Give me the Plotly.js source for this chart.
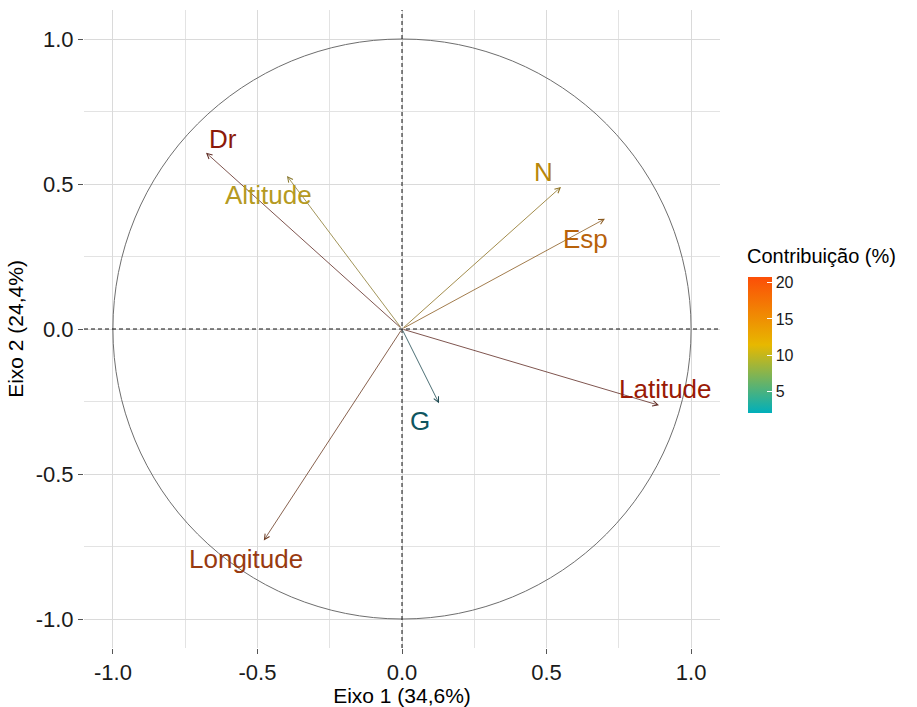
<!DOCTYPE html>
<html>
<head>
<meta charset="utf-8">
<script src="https://cdn.plot.ly/plotly-3.0.1.min.js"></script>
<style>html,body{margin:0;padding:0;background:#fff;}#chart{width:917px;height:707px;}</style>
</head>
<body>
<div id="chart"></div>
<script>
// Data
const variables = ["Dr", "Altitude", "N", "Esp", "Latitude", "G", "Longitude"];
const dim1 = [-0.678, -0.398, 0.550, 0.702, 0.889, 0.128, -0.478];
const dim2 = [0.608, 0.528, 0.490, 0.380, -0.263, -0.256, -0.729];
const contrib = [20.1, 10.6, 13.1, 15.4, 20.8, 1.98, 18.4];
const colorTicks = [5, 10, 15, 20];
const axisTicks = [-1.0, -0.5, 0.0, 0.5, 1.0];

// Styles
const varColors = ["#8B1A0A", "#B59A22", "#B8860B", "#B8620A", "#9A1A05", "#0F5560", "#983A10"];
const arrowColors = ["#5E2A22", "#8A7A30", "#8C7020", "#8A5A20", "#5E2A22", "#1E4A52", "#6A3A22"];
const labelShiftX = [17, -18, -18, -19, 6, -19, -18];
const labelShiftY = [14, -19, 15, -20, 16, -18, -19];
const colorscale = [[0, "#00AFBB"], [0.5, "#E7B800"], [1, "#FC4E07"]];

const font = "Liberation Sans, Arial, sans-serif";

// plot area in pixels
const PL = 84, PR = 720, PT = 10, PB = 648;
const px2paperX = p => (p - PL) / (PR - PL);
const px2paperY = p => (PB - p) / (PB - PT);

const annotations = [];
variables.forEach((v, i) => {
  annotations.push({
    x: dim1[i], y: dim2[i], ax: 0, ay: 0, xref: "x", yref: "y", axref: "x", ayref: "y",
    text: "", showarrow: true, arrowhead: 5, arrowsize: 1.3, arrowwidth: 0.8,
    arrowcolor: arrowColors[i], standoff: 0
  });
  annotations.push({
    x: dim1[i], y: dim2[i], xref: "x", yref: "y", text: v, showarrow: false,
    xshift: labelShiftX[i], yshift: labelShiftY[i],
    font: {family: font, size: 26, color: varColors[i]}
  });
});
annotations.push({
  xref: "paper", yref: "paper", x: px2paperX(745), y: px2paperY(256),
  xanchor: "left", yanchor: "middle", showarrow: false,
  text: "Contribuição (%)", font: {family: font, size: 20, color: "#000"}
});

const cmin = Math.min(...contrib), cmax = Math.max(...contrib);

const traces = [{
  type: "scatter", mode: "markers",
  x: dim1, y: dim2,
  marker: {
    size: 0.1, opacity: 0, color: contrib, colorscale: colorscale, cmin: cmin, cmax: cmax,
    showscale: true,
    colorbar: {
      xref: "paper", yref: "paper",
      x: px2paperX(748), xanchor: "left", y: px2paperY(413), yanchor: "bottom",
      lenmode: "pixels", len: 136, thickness: 24, xpad: 0, ypad: 0,
      outlinewidth: 0, tickvals: colorTicks, ticks: "inside", ticklen: 5,
      tickcolor: "#ffffff", tickwidth: 1,
      tickfont: {family: font, size: 16, color: "#1a1a1a"}
    }
  },
  hoverinfo: "skip", showlegend: false
}];

const axisCommon = {
  range: [-1.1, 1.1], tickvals: axisTicks, ticktext: axisTicks.map(t => t.toFixed(1)),
  showgrid: true, gridcolor: "#DADADA", gridwidth: 1,
  minor: {dtick: 0.25, tick0: 0, showgrid: true, gridcolor: "#E3E3E3", gridwidth: 1},
  zeroline: false, showline: false,
  ticks: "outside", ticklen: 5, tickcolor: "#555", tickwidth: 1,
  tickfont: {family: font, size: 22, color: "#1a1a1a"}
};

const layout = {
  width: 917, height: 707,
  margin: {l: PL, r: 917 - PR, t: PT, b: 707 - PB},
  paper_bgcolor: "#fff", plot_bgcolor: "#fff",
  xaxis: Object.assign({}, axisCommon, {
    title: {text: "Eixo 1 (34,6%)", font: {family: font, size: 21, color: "#000"}, standoff: 2}
  }),
  yaxis: Object.assign({}, axisCommon, {
    title: {text: "Eixo 2 (24,4%)", font: {family: font, size: 21, color: "#000"}, standoff: 6}
  }),
  shapes: [
    {type: "circle", xref: "x", yref: "y", x0: -1, y0: -1, x1: 1, y1: 1, line: {color: "#6E6E6E", width: 1}},
    {type: "line", xref: "x", yref: "paper", x0: 0, x1: 0, y0: 0, y1: 1, line: {color: "#111", width: 1, dash: "4px,3px"}},
    {type: "line", xref: "paper", yref: "y", x0: 0, x1: 1, y0: 0, y1: 0, line: {color: "#111", width: 1, dash: "4px,3px"}}
  ],
  annotations: annotations
};

Plotly.newPlot("chart", traces, layout, {displayModeBar: false, staticPlot: true});
</script>
</body>
</html>
